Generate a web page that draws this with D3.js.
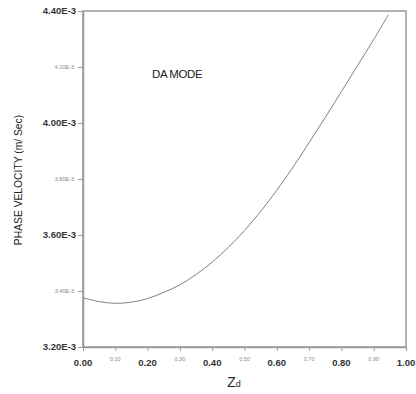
<!DOCTYPE html>
<html>
<head>
<meta charset="utf-8">
<script src="https://cdn.jsdelivr.net/npm/d3@7"></script>
<style>
  body { margin: 0; background: #fff; }
  svg { display: block; font-family: "Liberation Sans", Arial, sans-serif; }
</style>
</head>
<body>
<svg id="chart" width="416" height="394"></svg>
<script>
// Data (phase velocity in units of 1e-3 m/sec vs Zd)
const zd = [0, 0.05, 0.10, 0.15, 0.20, 0.25, 0.30, 0.35, 0.40, 0.45, 0.50, 0.55, 0.60, 0.65, 0.70, 0.75, 0.80, 0.85, 0.90, 0.945];
const velocity = [3.376, 3.362, 3.356, 3.360, 3.373, 3.395, 3.422, 3.459, 3.503, 3.556, 3.616, 3.684, 3.760, 3.842, 3.930, 4.020, 4.112, 4.205, 4.298, 4.386];
const xTicks = [0, 0.1, 0.2, 0.3, 0.4, 0.5, 0.6, 0.7, 0.8, 0.9, 1.0];
const xTickLabels = ["0.00", "0.10", "0.20", "0.30", "0.40", "0.50", "0.60", "0.70", "0.80", "0.90", "1.00"];
const yTicks = [3.2, 3.4, 3.6, 3.8, 4.0, 4.2, 4.4];
const yTickLabels = ["3.20E-3", "3.40E-3", "3.60E-3", "3.80E-3", "4.00E-3", "4.20E-3", "4.40E-3"];

const svg = d3.select("#chart");
const L = 83, R = 406, T = 11, B = 347;
const x = d3.scaleLinear().domain([0, 1]).range([L, R]);
const y = d3.scaleLinear().domain([3.2, 4.4]).range([B, T]);

const frame = "#9a9a9a";

// frame
svg.append("rect").attr("x", L).attr("y", T).attr("width", R - L).attr("height", B - T)
  .attr("fill", "none").attr("stroke", frame).attr("stroke-width", 1.5);

// x axis
const xAxis = svg.append("g").attr("transform", `translate(0,${B})`)
  .call(d3.axisBottom(x).tickValues(xTicks).tickSize(4).tickSizeOuter(0).tickFormat(""));
xAxis.select(".domain").attr("stroke", frame).attr("stroke-width", 1.5);
xAxis.selectAll(".tick line").attr("stroke", frame);

xTicks.forEach((v, i) => {
  const major = i % 2 === 0;
  svg.append("text")
    .attr("x", x(v)).attr("y", major ? 366 : 361)
    .attr("text-anchor", "middle")
    .attr("font-size", major ? 9.5 : 5.5)
    .attr("font-weight", major ? "bold" : "normal")
    .attr("fill", major ? "#333" : "#888")
    .text(xTickLabels[i]);
});

// y axis
const yAxis = svg.append("g").attr("transform", `translate(${L},0)`)
  .call(d3.axisLeft(y).tickValues(yTicks).tickSize(5).tickSizeOuter(0).tickFormat(""));
yAxis.select(".domain").attr("stroke", frame).attr("stroke-width", 1.5);
yAxis.selectAll(".tick line").attr("stroke", frame);

yTicks.forEach((v, i) => {
  const major = i % 2 === 0;
  svg.append("text")
    .attr("x", major ? 76 : 74).attr("y", y(v))
    .attr("dy", "0.35em")
    .attr("text-anchor", "end")
    .attr("font-size", major ? 9.5 : 5.5)
    .attr("font-weight", major ? "bold" : "normal")
    .attr("fill", major ? "#333" : "#888")
    .text(yTickLabels[i]);
});

// curve
const line = d3.line().x((d, i) => x(zd[i])).y(d => y(d)).curve(d3.curveCatmullRom.alpha(0.5));
svg.append("path").datum(velocity).attr("d", line)
  .attr("fill", "none").attr("stroke", "#808080").attr("stroke-width", 1);

// labels
svg.append("text").attr("x", 152).attr("y", 78).attr("font-size", 11.5).attr("fill", "#222")
  .attr("letter-spacing", "-0.4").text("DA MODE");

svg.append("text")
  .attr("transform", "translate(22,180) rotate(-90)")
  .attr("text-anchor", "middle").attr("font-size", 10.3).attr("fill", "#222")
  .text("PHASE VELOCITY (m/ Sec)");

const xt = svg.append("text").attr("x", 234).attr("y", 387).attr("text-anchor", "middle").attr("fill", "#222");
xt.append("tspan").attr("font-size", 14).text("Z");
xt.append("tspan").attr("font-size", 9).text("d");
</script>
</body>
</html>
